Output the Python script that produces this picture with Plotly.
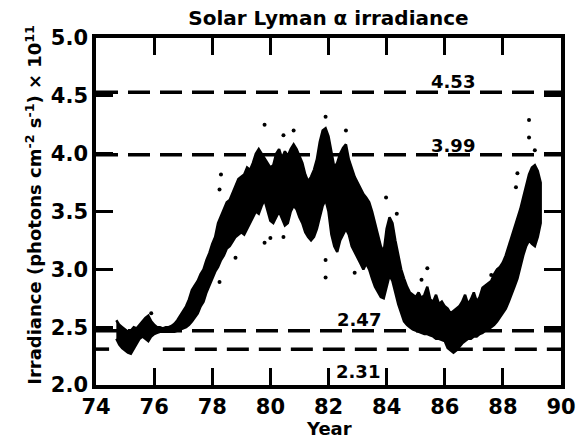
import plotly.graph_objects as go

# ---------------- data ----------------
years = [74.7, 74.8, 74.9, 75.0, 75.1, 75.2, 75.3, 75.4, 75.5, 75.6, 75.7, 75.8, 75.9,
         76.0, 76.1, 76.2, 76.3, 76.4, 76.5, 76.6, 76.7, 76.8, 76.9,
         77.0, 77.1, 77.2, 77.3, 77.4, 77.5, 77.6, 77.7, 77.8, 77.9,
         78.0, 78.1, 78.2, 78.3, 78.4, 78.5, 78.6, 78.7, 78.8, 78.9,
         79.0, 79.1, 79.2, 79.3, 79.4, 79.5, 79.6, 79.7, 79.8, 79.9,
         80.0, 80.1, 80.2, 80.3, 80.4, 80.5, 80.6, 80.7, 80.8, 80.9,
         81.0, 81.1, 81.2, 81.3, 81.4, 81.5, 81.6, 81.7, 81.8, 81.9,
         82.0, 82.1, 82.2, 82.3, 82.4, 82.5, 82.6, 82.7, 82.8, 82.9,
         83.0, 83.1, 83.2, 83.3, 83.4, 83.5, 83.6, 83.7, 83.8, 83.9,
         84.0, 84.1, 84.2, 84.3, 84.4, 84.5, 84.6, 84.7, 84.8, 84.9,
         85.0, 85.1, 85.2, 85.3, 85.4, 85.5, 85.6, 85.7, 85.8, 85.9,
         86.0, 86.1, 86.2, 86.3, 86.4, 86.5, 86.6, 86.7, 86.8, 86.9,
         87.0, 87.1, 87.2, 87.3, 87.4, 87.5, 87.6, 87.7, 87.8, 87.9,
         88.0, 88.1, 88.2, 88.3, 88.4, 88.5, 88.6, 88.7, 88.8, 88.9,
         89.0, 89.1, 89.2, 89.3]

irr_low = [2.40, 2.35, 2.32, 2.30, 2.28, 2.27, 2.31, 2.36, 2.40, 2.42, 2.40, 2.38, 2.42,
           2.44, 2.45, 2.46, 2.46, 2.46, 2.46, 2.46, 2.46, 2.47, 2.48,
           2.49, 2.50, 2.52, 2.55, 2.58, 2.62, 2.68, 2.72, 2.80, 2.86,
           2.92, 2.98, 3.02, 3.08, 3.12, 3.18, 3.20, 3.24, 3.28, 3.30,
           3.32, 3.30, 3.35, 3.40, 3.45, 3.50, 3.48, 3.55, 3.60, 3.52,
           3.42, 3.40, 3.45, 3.50, 3.44, 3.38, 3.40, 3.50, 3.55, 3.52,
           3.45, 3.40, 3.32, 3.28, 3.25, 3.28, 3.35, 3.45, 3.55, 3.60,
           3.50, 3.30, 3.20, 3.15, 3.25, 3.30, 3.35, 3.30, 3.20, 3.15,
           3.10, 3.05, 3.00, 3.05, 3.00, 2.92, 2.85, 2.80, 2.76, 2.75,
           2.85, 2.95, 2.90, 2.80, 2.70, 2.62, 2.55, 2.52, 2.50, 2.48,
           2.47, 2.46, 2.45, 2.44, 2.44, 2.43, 2.42, 2.40, 2.40, 2.39,
           2.38, 2.32, 2.30, 2.28, 2.30, 2.33, 2.36, 2.38, 2.40, 2.40,
           2.42, 2.42, 2.44, 2.45, 2.47, 2.48, 2.50, 2.52, 2.55, 2.58,
           2.62, 2.66, 2.72, 2.78, 2.85, 2.92, 3.02, 3.12, 3.20, 3.25,
           3.22, 3.20, 3.28, 3.40]

irr_high = [2.56, 2.52, 2.50, 2.48, 2.46, 2.47, 2.50, 2.49, 2.52, 2.55, 2.58, 2.60, 2.55,
            2.52, 2.50, 2.50, 2.49, 2.50, 2.50, 2.51, 2.53, 2.56, 2.60,
            2.64, 2.68, 2.74, 2.82, 2.86, 2.90, 2.96, 3.00, 3.08, 3.14,
            3.22, 3.28, 3.40, 3.46, 3.52, 3.58, 3.60, 3.66, 3.72, 3.78,
            3.80, 3.82, 3.88, 3.86, 3.92, 4.00, 4.04, 4.00, 3.95, 3.92,
            3.88, 3.90, 4.00, 4.04, 3.96, 4.02, 3.98, 4.04, 4.08, 4.04,
            3.98, 3.92, 3.82, 3.76, 3.80, 3.86, 3.95, 4.10, 4.20, 4.22,
            4.15, 4.00, 3.88, 3.92, 4.00, 4.05, 4.08, 3.95, 3.88, 3.80,
            3.75, 3.70, 3.65, 3.62, 3.58, 3.50, 3.40, 3.30, 3.20, 3.15,
            3.35, 3.45, 3.40, 3.25, 3.12, 3.00, 2.92, 2.85, 2.80, 2.78,
            2.76, 2.80, 2.75, 2.78, 2.85, 2.74, 2.72, 2.78, 2.70, 2.72,
            2.68, 2.66, 2.62, 2.64, 2.66, 2.68, 2.72, 2.78, 2.70, 2.74,
            2.80, 2.72, 2.76, 2.84, 2.86, 2.88, 2.90, 2.96, 3.00, 3.02,
            3.06, 3.12, 3.20, 3.28, 3.35, 3.42, 3.52, 3.62, 3.72, 3.82,
            3.88, 3.90, 3.85, 3.75]

# isolated points outside the main band
out_years = [75.9, 78.25, 78.3, 78.8, 78.25, 79.8, 80.45, 80.8, 79.8, 80.0, 80.45,
             81.9, 82.6, 81.9, 81.9, 82.9, 83.98, 84.35, 85.2, 85.4, 87.6,
             88.45, 88.5, 88.9, 88.9, 89.1]
out_irr = [2.62, 3.69, 3.82, 3.10, 2.89, 4.25, 4.16, 4.20, 3.23, 3.27, 3.28,
           4.32, 4.20, 2.93, 3.08, 2.97, 3.62, 3.48, 2.91, 3.01, 2.95,
           3.71, 3.83, 4.29, 4.14, 4.03]

ref_levels = [4.53, 3.99, 2.47, 2.31]
ref_start = [74.0, 74.0, 74.0, 76.3]
ref_end = [90.0, 90.0, 90.0, 90.0]
ref_label_year = [86.3, 86.3, 83.05, 83.0]
ref_label_irr = [4.62, 4.07, 2.57, 2.12]
ref_labels = ["4.53", "3.99", "2.47", "2.31"]

x_ticks = [74, 76, 78, 80, 82, 84, 86, 88, 90]
y_ticks = [2.0, 2.5, 3.0, 3.5, 4.0, 4.5, 5.0]
y_tick_text = ["2.0", "2.5", "3.0", "3.5", "4.0", "4.5", "5.0"]

# ---------------- figure ----------------
FONT = "DejaVu Sans"
fig = go.Figure()

# dashed reference levels
for lv, x0, x1 in zip(ref_levels, ref_start, ref_end):
    fig.add_trace(go.Scatter(x=[x0, x1], y=[lv, lv], mode="lines",
                             line=dict(color="black", width=3.5, dash="22px,10px"),
                             hoverinfo="skip", showlegend=False))
# short stub of the 2.31 line at the left axis
fig.add_trace(go.Scatter(x=[74.0, 74.45], y=[ref_levels[3], ref_levels[3]], mode="lines",
                         line=dict(color="black", width=3.5),
                         hoverinfo="skip", showlegend=False))

# data envelope
fig.add_trace(go.Scatter(x=years + years[::-1], y=irr_high + irr_low[::-1],
                         mode="lines", fill="toself", fillcolor="black",
                         line=dict(color="black", width=2.5),
                         hoverinfo="skip", showlegend=False))
fig.add_trace(go.Scatter(x=out_years, y=out_irr, mode="markers",
                         marker=dict(color="black", size=4),
                         hoverinfo="skip", showlegend=False))

for yr, v, t in zip(ref_label_year, ref_label_irr, ref_labels):
    fig.add_annotation(x=yr, y=v, text=t, showarrow=False,
                       font=dict(family=FONT, size=18, color="black", weight="bold"),
                       xanchor="center", yanchor="middle")

axis_common = dict(showline=True, linecolor="black", linewidth=3.5, mirror="ticks",
                   ticks="inside", ticklen=17, tickwidth=3, tickcolor="black",
                   showgrid=False, zeroline=False,
                   tickfont=dict(family=FONT, size=21, color="black", weight="bold"))

fig.update_xaxes(range=[74, 90], tickvals=x_ticks,
                 ticktext=[str(v) for v in x_ticks], **axis_common)
fig.update_yaxes(range=[2, 5], tickvals=y_ticks, ticktext=y_tick_text, **axis_common)

fig.add_annotation(xref="paper", yref="paper", x=0.5, y=-0.124, text="Year",
                   showarrow=False, xanchor="center", yanchor="middle",
                   font=dict(family=FONT, size=18, color="black", weight="bold"))
fig.add_annotation(xref="paper", yref="paper", x=-0.135, y=0.52,
                   text="Irradiance (photons cm<sup>-2</sup> s<sup>-1</sup>) \u00d7 10<sup>11</sup>",
                   textangle=-90, showarrow=False, xanchor="center", yanchor="middle",
                   font=dict(family=FONT, size=18, color="black", weight="bold"))

fig.update_layout(
    width=588, height=440,
    margin=dict(l=96, r=15, t=38, b=55),
    paper_bgcolor="white", plot_bgcolor="white",
    title=dict(text="Solar Lyman \u03b1 irradiance", x=0.5, xref="paper",
               y=1 - 18 / 440, yref="container", xanchor="center", yanchor="middle",
               font=dict(family=FONT, size=20, color="black", weight="bold")),
)

fig.write_html("out.html")
